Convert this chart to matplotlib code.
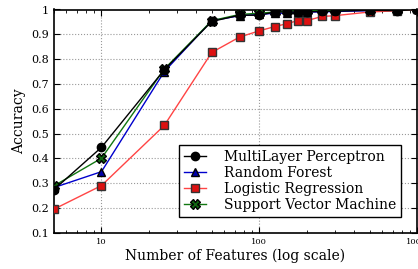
import matplotlib
matplotlib.use('Agg')
import matplotlib.pyplot as plt
from matplotlib.ticker import FixedLocator, FixedFormatter, NullFormatter

# datos
num_features = [5, 10, 25, 50, 75, 100, 125, 150, 175, 200, 250, 300, 500, 750, 1000]
acc_mlp = [0.275, 0.445, 0.757, 0.952, 0.977, 0.977, 0.990, 0.990, 0.990, 0.990, 0.993, 0.993, 0.997, 0.995, 1.0]
acc_rf = [0.283, 0.347, 0.750, 0.955, 0.975, 0.980, 0.985, 0.985, 0.988, 0.990, 0.990, 0.992, 0.995, 0.997, 1.0]
acc_lr = [0.196, 0.291, 0.533, 0.827, 0.889, 0.914, 0.931, 0.943, 0.955, 0.955, 0.972, 0.975, 0.990, 0.995, 1.0]
acc_svm = [0.290, 0.401, 0.760, 0.955, 0.980, 0.985, 0.990, 0.993, 0.995, 0.995, 0.997, 0.997, 0.998, 0.999, 1.0]

y_ticks = [0.1, 0.2, 0.3, 0.4, 0.5, 0.6, 0.7, 0.8, 0.9, 1.0]
y_labels = ['0.1', '0.2', '0.3', '0.4', '0.5', '0.6', '0.7', '0.8', '0.9', '1']
x_ticks = [10, 100, 1000]
x_labels = ['10', '100', '1000']

plt.rcParams['font.family'] = 'DejaVu Serif'

fig = plt.figure(figsize=(4.18, 2.69), dpi=100)
ax = fig.add_axes([54 / 418, 36 / 269, 363 / 418, 223.5 / 269])

ax.plot(num_features, acc_mlp, color='black', marker='o', markersize=6, lw=1,
        markeredgecolor='black', label='MultiLayer Perceptron', zorder=5)
ax.plot(num_features, acc_rf, color='#0000cc', marker='^', markersize=6, lw=1,
        markerfacecolor='#0000aa', markeredgecolor='black', label='Random Forest', zorder=3)
ax.plot(num_features, acc_lr, color='#ff4444', marker='s', markersize=6, lw=1,
        markerfacecolor='#dd1111', markeredgecolor='#333333', label='Logistic Regression', zorder=4)
ax.plot(num_features, acc_svm, color='#117711', marker='X', markersize=7, lw=1,
        markerfacecolor='#116611', markeredgecolor='black', label='Support Vector Machine', zorder=4)

ax.set_xscale('log')
ax.set_xlim(5, 1000)
ax.set_ylim(0.1, 1.0)
ax.yaxis.set_major_locator(FixedLocator(y_ticks))
ax.yaxis.set_major_formatter(FixedFormatter(y_labels))
ax.xaxis.set_major_locator(FixedLocator(x_ticks))
ax.xaxis.set_major_formatter(FixedFormatter(x_labels))
ax.xaxis.set_minor_formatter(NullFormatter())

ax.tick_params(which='both', direction='in', top=True, right=True)
ax.tick_params(which='major', length=4)
ax.tick_params(which='minor', length=2)
ax.tick_params(axis='y', labelsize=8)
ax.tick_params(axis='x', labelsize=6)
for s in ax.spines.values():
    s.set_linewidth(1.2)

ax.grid(True, which='major', linestyle=':', color='#999999', linewidth=0.8)
ax.set_axisbelow(True)

ax.set_xlabel('Number of Features (log scale)', fontsize=10, labelpad=2)
ax.set_ylabel('Accuracy', fontsize=10, labelpad=4)

leg = ax.legend(loc='lower right', bbox_to_anchor=(0.956, 0.072), borderaxespad=0,
                fontsize=10, fancybox=False, framealpha=1, edgecolor='black',
                handlelength=1.6, labelspacing=0.15, borderpad=0.35, handletextpad=1.3)
leg.get_frame().set_linewidth(1)

fig.savefig('out.png', dpi=100)
